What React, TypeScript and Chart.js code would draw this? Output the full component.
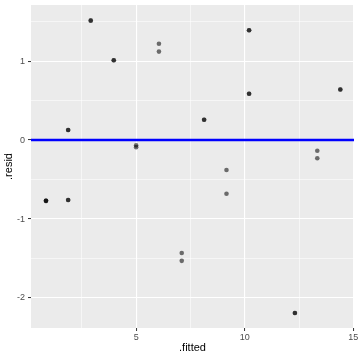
import React, { useEffect, useRef } from "react";
import { Chart, registerables } from "chart.js";

Chart.register(...registerables);

const fitted = [
  0.85, 0.85, 0.85, 1.87, 1.87, 1.87, 1.87, 2.91, 2.91, 3.97, 3.97, 5.0, 5.0,
  6.05, 6.05, 7.1, 7.1, 8.13, 8.13, 9.16, 9.16, 10.2, 10.2, 10.2, 10.2, 12.31,
  12.31, 13.34, 13.34, 14.4, 14.4,
];
const resid = [
  -0.77, -0.77, -0.77, -0.76, -0.76, 0.127, 0.127, 1.51, 1.515, 1.01, 1.01,
  -0.067, -0.09, 1.22, 1.12, -1.43, -1.53, 0.257, 0.257, -0.38, -0.68, 1.39,
  1.39, 0.586, 0.586, -2.19, -2.19, -0.135, -0.23, 0.64, 0.64,
];
const xMin = 0.16;
const xMax = 15.03;
const yMin = -2.38;
const yMax = 1.71;
const xTicks = [2.5, 5, 7.5, 10, 12.5, 15];
const yTicks = [-2, -1.5, -1, -0.5, 0, 0.5, 1, 1.5];
const hlineY = 0;

const isMajor = (v: number) => Math.abs(v - Math.round(v)) < 1e-9;
const isMajorX = (v: number) => Math.abs(v % 5) < 1e-9;

export default function App() {
  const ref = useRef<HTMLCanvasElement>(null);
  useEffect(() => {
    if (!ref.current) return;
    const panelBg = {
      id: "panelBg",
      beforeDraw(chart: any) {
        const { ctx, chartArea } = chart;
        ctx.save();
        ctx.fillStyle = "#EBEBEB";
        ctx.fillRect(
          chartArea.left,
          chartArea.top,
          chartArea.right - chartArea.left,
          chartArea.bottom - chartArea.top
        );
        ctx.restore();
      },
    };
    const font = "'Liberation Sans', Arial, Helvetica, sans-serif";
    const chart = new Chart(ref.current, {
      type: "scatter",
      data: {
        datasets: [
          {
            type: "line",
            data: [
              { x: xMin, y: hlineY },
              { x: xMax, y: hlineY },
            ],
            borderColor: "#0000FF",
            borderWidth: 2.6,
            pointRadius: 0,
            fill: false,
          },
          {
            data: fitted.map((x, i) => ({ x, y: resid[i] })),
            backgroundColor: "rgba(0,0,0,0.55)",
            borderWidth: 0,
            pointRadius: 2.3,
            pointHoverRadius: 2.3,
          },
        ],
      } as any,
      options: {
        animation: false,
        responsive: false,
        events: [],
        layout: { padding: { top: 5, right: 6, left: 0, bottom: 0 } },
        plugins: { legend: { display: false }, tooltip: { enabled: false } },
        scales: {
          x: {
            type: "linear",
            min: xMin,
            max: xMax,
            afterBuildTicks: (s: any) => {
              s.ticks = xTicks.map((v) => ({ value: v }));
            },
            afterFit: (s: any) => {
              s.height = 32;
              s.paddingLeft = 0;
              s.paddingRight = 0;
            },
            border: { display: false },
            grid: {
              color: "#FFFFFF",
              lineWidth: (c: any) => (isMajorX(c.tick.value) ? 1.1 : 0.55),
              tickLength: 3,
              tickColor: (c: any) =>
                isMajorX(c.tick.value) ? "#333333" : "rgba(0,0,0,0)",
              tickWidth: 1,
            },
            ticks: {
              padding: 1,
              color: "#4D4D4D",
              font: { family: font, size: 9 },
              maxRotation: 0,
              autoSkip: false,
              callback: (v: any) => (isMajorX(Number(v)) ? String(v) : ""),
            },
            title: {
              display: true,
              text: ".fitted",
              color: "#000000",
              font: { family: font, size: 11 },
              padding: { top: 5, bottom: 5 },
            },
          },
          y: {
            type: "linear",
            min: yMin,
            max: yMax,
            afterBuildTicks: (s: any) => {
              s.ticks = yTicks.map((v) => ({ value: v }));
            },
            afterFit: (s: any) => {
              s.width = 31;
              s.paddingTop = 0;
              s.paddingBottom = 0;
            },
            border: { display: false },
            grid: {
              color: "#FFFFFF",
              lineWidth: (c: any) => (isMajor(c.tick.value) ? 1.1 : 0.55),
              tickLength: 3,
              tickColor: (c: any) =>
                isMajor(c.tick.value) ? "#333333" : "rgba(0,0,0,0)",
              tickWidth: 1,
            },
            ticks: {
              padding: 3,
              color: "#4D4D4D",
              font: { family: font, size: 9 },
              autoSkip: false,
              callback: (v: any) => (isMajor(Number(v)) ? String(v) : ""),
            },
            title: {
              display: true,
              text: ".resid",
              color: "#000000",
              font: { family: font, size: 11 },
              padding: { top: 2, bottom: 2 },
            },
          },
        },
      },
      plugins: [panelBg],
    } as any);
    return () => chart.destroy();
  }, []);
  return (
    <div style={{ position: "fixed", left: 0, top: 0, width: 360, height: 360, background: "#fff" }}>
      <canvas ref={ref} width={360} height={360} style={{ display: "block" }} />
    </div>
  );
}
